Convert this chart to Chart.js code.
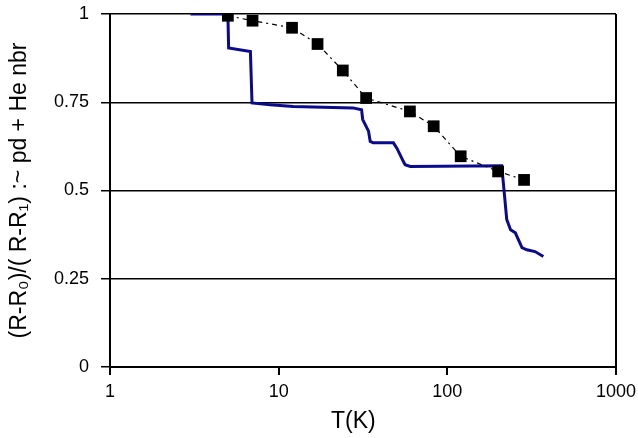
<!DOCTYPE html>
<html>
<head>
<meta charset="utf-8">
<script src="https://cdn.jsdelivr.net/npm/chart.js@4.4.0/dist/chart.umd.min.js"></script>
<style>
  html, body { margin: 0; padding: 0; background: #fff; }
  #wrap { width: 638px; height: 438px; }
</style>
</head>
<body>
<div id="wrap"><canvas id="myChart"></canvas></div>
<script>
// measured squares (T in K, normalised R)
const squareT = [5, 7, 12, 17, 24, 33, 60, 83, 120, 200, 285];
const squareR = [0.995, 0.981, 0.961, 0.915, 0.840, 0.762, 0.724, 0.682, 0.597, 0.554, 0.530];

// continuous blue trace
const blueT = [3, 5, 5.05, 6.8, 6.95, 8.9, 12.2, 27.6, 31, 31.5, 34.1, 34.9, 36.4, 47.9, 50.2, 52.5, 54.9, 56.2, 60.3, 210, 213, 225, 237, 253, 277, 296, 331, 371];
const blueR = [1.0, 1.0, 0.904, 0.894, 0.748, 0.743, 0.738, 0.734, 0.729, 0.701, 0.668, 0.639, 0.635, 0.635, 0.620, 0.601, 0.582, 0.573, 0.568, 0.570, 0.540, 0.418, 0.389, 0.380, 0.338, 0.332, 0.327, 0.313];

const xTicks = [1, 10, 100, 1000];
const yTicks = [0, 0.25, 0.5, 0.75, 1];

const toPoints = (xs, ys) => xs.map((x, i) => ({ x: x, y: ys[i] }));

const data = {
  datasets: [{
    label: 'squares',
    data: toPoints(squareT, squareR),
    borderColor: '#000',
    backgroundColor: '#000',
    borderWidth: 1.2,
    borderDash: [5, 4, 2, 4],
    pointStyle: 'rect',
    pointRadius: 8.3,
    pointBorderWidth: 0,
    tension: 0
  }, {
    label: 'trace',
    data: toPoints(blueT, blueR),
    borderColor: '#0a0a8c',
    borderWidth: 3,
    pointRadius: 0,
    tension: 0
  }]
};

const tickFont = { family: 'Liberation Sans', size: 18 };
const titleFont = { family: 'Liberation Sans', size: 23 };

const config = {
  type: 'line',
  data: data,
  options: {
    responsive: true,
    maintainAspectRatio: false,
    animation: false,
    layout: { padding: { left: 0, right: 22, top: 14, bottom: 0 } },
    plugins: { legend: { display: false }, tooltip: { enabled: false } },
    scales: {
      x: {
        type: 'logarithmic',
        min: 1,
        max: 1000,
        afterBuildTicks: (scale) => { scale.ticks = xTicks.map(v => ({ value: v })); },
        afterFit: (scale) => {
          scale.height = 71;
          scale.paddingLeft = 0;
          scale.paddingRight = 0;
        },
        border: { display: true, color: '#000', width: 2 },
        grid: {
          drawOnChartArea: true,
          color: (ctx) => (ctx.tick && ctx.tick.value === 1000) ? '#000' : 'transparent',
          tickColor: '#000',
          lineWidth: 2,
          tickLength: 8
        },
        ticks: {
          color: '#000',
          font: tickFont,
          padding: 6,
          maxRotation: 0,
          autoSkip: false,
          callback: (v) => String(v)
        },
        title: {
          display: true,
          text: 'T(K)   ',
          color: '#000',
          font: titleFont,
          padding: { top: 2, bottom: 3 }
        }
      },
      y: {
        min: 0,
        max: 1,
        afterBuildTicks: (scale) => { scale.ticks = yTicks.map(v => ({ value: v })); },
        afterFit: (scale) => {
          scale.width = 110;
          scale.paddingTop = 0;
          scale.paddingBottom = 0;
        },
        border: { display: true, color: '#000', width: 2 },
        grid: {
          color: '#000',
          lineWidth: 1.5,
          tickLength: 9
        },
        ticks: {
          color: '#000',
          font: tickFont,
          padding: 12,
          callback: (v) => String(v)
        },
        title: {
          display: true,
          text: '(R-R\u2080)/( R-R\u2081) :~ pd + He nbr',
          color: '#000',
          font: titleFont,
          padding: { top: 6, bottom: 4 }
        }
      }
    }
  }
};

const myChart = new Chart(document.getElementById('myChart'), config);
</script>
</body>
</html>
